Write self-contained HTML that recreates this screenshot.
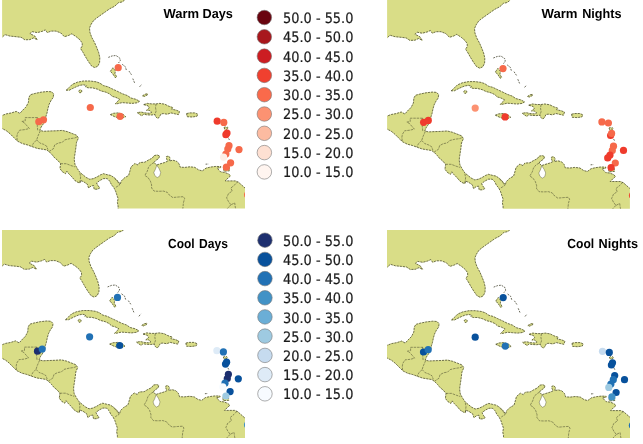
<!DOCTYPE html>
<html lang="en"><head><meta charset="utf-8"><title>Warm and cool days and nights</title>
<style>
html,body{margin:0;padding:0;background:#fff;}
body{width:643px;height:444px;overflow:hidden;}
svg{display:block;}
text{text-rendering:geometricPrecision;}
.lg{font-family:"DejaVu Sans Condensed","DejaVu Sans","Liberation Sans",sans-serif;font-size:14.3px;fill:#1a1a1a;stroke:#1a1a1a;stroke-width:0.2px;}
.tt{font-family:"Liberation Sans","DejaVu Sans",sans-serif;font-size:13.2px;font-weight:bold;fill:#000;}
</style></head><body>
<svg width="643" height="444" viewBox="0 0 643 444">
<rect width="643" height="444" fill="#fff"/>
<svg class="panel" x="2.1" y="0" width="242.9" height="208.6" viewBox="2.1 0 242.9 208.6" overflow="hidden">
<g transform="translate(0,0)"><path d="M-3.0,-3.0L126.5,-3.0L124.7,0.0L122.2,1.9L118.5,2.7L114.7,6.2L109.8,8.7L105.4,11.8L101.0,14.9L96.7,18.0L93.6,20.5L91.1,24.3L89.5,28.0L89.9,32.3L91.7,37.3L94.5,42.4L96.7,47.5L98.6,52.4L99.8,57.4L99.6,62.4L97.9,66.1L94.8,67.6L91.7,66.1L88.6,61.8L85.5,56.8L83.0,52.3L81.5,50.0L80.6,48.5L82.3,46.0L82.2,43.0L79.9,39.8L76.2,36.7L71.8,33.8L68.7,35.4L64.4,36.7L60.9,33.0L56.0,31.1L51.0,31.1L47.3,32.6L45.4,29.9L42.3,31.3L37.3,32.6L32.3,31.7L29.9,33.6L34.8,36.1L37.3,39.8L33.6,37.9L29.9,39.6L24.9,39.8L21.1,37.3L16.2,36.7L10.0,36.1L5.0,34.6L2.1,37.3L-3.0,37.3Z M-3.0,115.5L2.1,115.5L6.2,113.9L11.2,113.0L16.2,111.4L19.9,113.4L22.4,110.5L26.1,106.8L28.4,102.4L28.9,97.4L30.5,94.7L34.8,93.5L41.0,92.2L47.3,91.5L51.6,91.8L53.7,94.0L53.2,97.4L51.0,100.5L49.1,104.3L47.9,108.6L47.0,113.0L46.0,116.1L45.4,119.8L43.5,123.6L41.0,127.3L39.8,130.4L43.5,131.3L49.8,131.0L56.0,130.8L62.2,130.4L67.2,131.6L72.1,133.5L76.5,135.2L78.4,138.0L76.5,142.4L75.9,147.4L75.2,152.3L74.4,157.3L74.3,160.0L74.9,164.3L77.4,168.7L79.9,172.4L83.0,174.9L86.1,177.4L89.8,179.3L93.5,178.6L97.3,176.8L100.4,174.9L103.5,173.7L107.2,174.7L110.9,175.5L114.7,178.0L117.8,181.1L120.3,184.2L121.2,181.1L124.3,178.0L128.6,175.5L129.9,171.2L131.1,166.8L134.9,163.5L138.0,165.0L139.8,162.5L144.8,162.2L148.5,160.0L152.3,158.1L154.1,155.6L157.2,155.0L159.7,156.0L158.5,158.7L155.4,160.6L154.1,162.5L156.6,165.0L159.7,164.0L164.7,162.5L167.6,161.2L166.6,158.7L166.4,156.6L168.6,156.0L170.2,158.2L169.2,161.0L172.8,160.2L176.5,161.2L179.0,163.7L180.2,167.2L184.9,167.4L189.9,166.8L194.9,167.4L198.6,169.9L202.3,170.9L206.1,168.1L211.0,167.0L216.0,166.4L220.8,166.6L220.6,167.7L217.2,168.1L218.9,170.1L220.8,172.0L224.6,172.4L228.4,173.9L230.6,175.8L228.4,177.7L225.2,180.9L230.3,180.9L235.3,180.9L238.4,182.2L241.5,184.9L245.0,188.0L250.0,192.0L250.0,215.0L118.1,215.0L118.1,208.5L118.1,206.0L117.4,202.3L118.1,198.5L116.8,194.8L115.6,191.1L113.7,187.3L111.6,184.9L109.7,181.1L107.2,178.6L103.5,178.6L99.8,180.5L96.6,183.0L97.9,185.5L99.8,188.0L97.3,189.2L94.2,189.2L93.5,185.5L91.0,186.1L88.6,188.0L87.3,184.2L83.6,181.7L80.5,180.5L79.9,183.0L78.0,182.4L74.9,180.5L71.8,176.8L68.7,173.7L66.8,171.2L65.5,173.7L62.4,171.8L60.0,168.7L60.6,163.7L57.8,160.4L54.7,157.9L52.2,154.8L49.1,151.7L46.6,149.9L42.3,149.2L37.3,148.4L32.3,146.7L27.4,144.9L22.4,143.6L17.4,141.1L13.7,137.4L10.0,133.7L6.2,130.6L2.1,128.5L-3.0,128.5Z M66.2,90.2L69.3,87.4L72.4,84.3L77.4,82.2L83.6,81.0L89.9,81.0L96.1,81.8L99.8,83.1L103.5,85.6L107.9,86.8L112.2,88.9L117.2,91.2L122.2,93.7L127.2,95.5L130.9,98.0L135.9,99.3L139.6,101.3L137.1,102.8L132.1,103.4L127.2,103.0L122.2,102.6L117.8,103.6L115.3,103.9L117.2,101.7L119.7,99.3L116.0,97.4L112.2,96.3L109.8,94.0L106.0,92.2L101.0,90.9L97.3,89.1L92.3,87.8L88.0,87.8L85.5,86.8L86.5,85.6L83.6,84.8L79.9,85.3L76.2,86.8L72.4,88.6L69.3,90.2Z M78.6,91.0L80.2,89.8L81.8,90.6L81.6,92.4L79.8,92.8Z M110.4,114.6L113.5,113.3L118.5,112.9L123.4,114.6L125.7,116.7L122.8,117.9L118.5,117.9L114.7,116.7Z M143.7,104.6L147.4,103.4L151.7,103.9L156.1,103.9L159.8,103.4L164.8,104.2L168.5,106.1L172.9,107.6L171.6,109.2L176.0,110.1L179.5,111.5L178.5,114.6L174.8,113.8L171.0,112.9L167.3,114.2L163.6,113.6L161.1,113.8L159.2,117.3L157.6,118.5L155.8,116.7L154.9,114.6L151.1,115.0L146.8,114.8L143.7,114.2L141.8,115.8L139.3,114.2L137.2,112.6L141.2,112.1L144.9,112.9L149.3,113.3L151.7,112.3L149.3,110.4L146.5,110.3L149.3,108.0L148.0,105.8Z M186.6,113.6L189.7,112.9L194.7,112.9L197.8,114.2L196.9,116.3L192.2,117.0L187.2,116.7Z M110.4,71.3L112.9,67.8L115.4,70.8L114.9,73.6L116.7,76.9L115.2,77.6L113.0,74.2Z M142.4,95.9L144.9,94.3L147.6,93.7L147.1,95.2L144.3,96.4Z M224.0,127.6L225.2,126.8L226.2,127.8L227.3,127.0L228.2,128.2L226.6,129.4L224.8,129.2Z M223.5,167.5L229.0,166.8L229.5,170.8L224.0,171.2Z" fill="#d9dd87" stroke="#d9dd87" stroke-width="0.5" stroke-linejoin="round"/><path d="M-3.0,-3.0L126.5,-3.0L124.7,0.0L122.2,1.9L118.5,2.7L114.7,6.2L109.8,8.7L105.4,11.8L101.0,14.9L96.7,18.0L93.6,20.5L91.1,24.3L89.5,28.0L89.9,32.3L91.7,37.3L94.5,42.4L96.7,47.5L98.6,52.4L99.8,57.4L99.6,62.4L97.9,66.1L94.8,67.6L91.7,66.1L88.6,61.8L85.5,56.8L83.0,52.3L81.5,50.0L80.6,48.5L82.3,46.0L82.2,43.0L79.9,39.8L76.2,36.7L71.8,33.8L68.7,35.4L64.4,36.7L60.9,33.0L56.0,31.1L51.0,31.1L47.3,32.6L45.4,29.9L42.3,31.3L37.3,32.6L32.3,31.7L29.9,33.6L34.8,36.1L37.3,39.8L33.6,37.9L29.9,39.6L24.9,39.8L21.1,37.3L16.2,36.7L10.0,36.1L5.0,34.6L2.1,37.3L-3.0,37.3Z M-3.0,115.5L2.1,115.5L6.2,113.9L11.2,113.0L16.2,111.4L19.9,113.4L22.4,110.5L26.1,106.8L28.4,102.4L28.9,97.4L30.5,94.7L34.8,93.5L41.0,92.2L47.3,91.5L51.6,91.8L53.7,94.0L53.2,97.4L51.0,100.5L49.1,104.3L47.9,108.6L47.0,113.0L46.0,116.1L45.4,119.8L43.5,123.6L41.0,127.3L39.8,130.4L43.5,131.3L49.8,131.0L56.0,130.8L62.2,130.4L67.2,131.6L72.1,133.5L76.5,135.2L78.4,138.0L76.5,142.4L75.9,147.4L75.2,152.3L74.4,157.3L74.3,160.0L74.9,164.3L77.4,168.7L79.9,172.4L83.0,174.9L86.1,177.4L89.8,179.3L93.5,178.6L97.3,176.8L100.4,174.9L103.5,173.7L107.2,174.7L110.9,175.5L114.7,178.0L117.8,181.1L120.3,184.2L121.2,181.1L124.3,178.0L128.6,175.5L129.9,171.2L131.1,166.8L134.9,163.5L138.0,165.0L139.8,162.5L144.8,162.2L148.5,160.0L152.3,158.1L154.1,155.6L157.2,155.0L159.7,156.0L158.5,158.7L155.4,160.6L154.1,162.5L156.6,165.0L159.7,164.0L164.7,162.5L167.6,161.2L166.6,158.7L166.4,156.6L168.6,156.0L170.2,158.2L169.2,161.0L172.8,160.2L176.5,161.2L179.0,163.7L180.2,167.2L184.9,167.4L189.9,166.8L194.9,167.4L198.6,169.9L202.3,170.9L206.1,168.1L211.0,167.0L216.0,166.4L220.8,166.6L220.6,167.7L217.2,168.1L218.9,170.1L220.8,172.0L224.6,172.4L228.4,173.9L230.6,175.8L228.4,177.7L225.2,180.9L230.3,180.9L235.3,180.9L238.4,182.2L241.5,184.9L245.0,188.0L250.0,192.0L250.0,215.0L118.1,215.0L118.1,208.5L118.1,206.0L117.4,202.3L118.1,198.5L116.8,194.8L115.6,191.1L113.7,187.3L111.6,184.9L109.7,181.1L107.2,178.6L103.5,178.6L99.8,180.5L96.6,183.0L97.9,185.5L99.8,188.0L97.3,189.2L94.2,189.2L93.5,185.5L91.0,186.1L88.6,188.0L87.3,184.2L83.6,181.7L80.5,180.5L79.9,183.0L78.0,182.4L74.9,180.5L71.8,176.8L68.7,173.7L66.8,171.2L65.5,173.7L62.4,171.8L60.0,168.7L60.6,163.7L57.8,160.4L54.7,157.9L52.2,154.8L49.1,151.7L46.6,149.9L42.3,149.2L37.3,148.4L32.3,146.7L27.4,144.9L22.4,143.6L17.4,141.1L13.7,137.4L10.0,133.7L6.2,130.6L2.1,128.5L-3.0,128.5Z M66.2,90.2L69.3,87.4L72.4,84.3L77.4,82.2L83.6,81.0L89.9,81.0L96.1,81.8L99.8,83.1L103.5,85.6L107.9,86.8L112.2,88.9L117.2,91.2L122.2,93.7L127.2,95.5L130.9,98.0L135.9,99.3L139.6,101.3L137.1,102.8L132.1,103.4L127.2,103.0L122.2,102.6L117.8,103.6L115.3,103.9L117.2,101.7L119.7,99.3L116.0,97.4L112.2,96.3L109.8,94.0L106.0,92.2L101.0,90.9L97.3,89.1L92.3,87.8L88.0,87.8L85.5,86.8L86.5,85.6L83.6,84.8L79.9,85.3L76.2,86.8L72.4,88.6L69.3,90.2Z M78.6,91.0L80.2,89.8L81.8,90.6L81.6,92.4L79.8,92.8Z M110.4,114.6L113.5,113.3L118.5,112.9L123.4,114.6L125.7,116.7L122.8,117.9L118.5,117.9L114.7,116.7Z M143.7,104.6L147.4,103.4L151.7,103.9L156.1,103.9L159.8,103.4L164.8,104.2L168.5,106.1L172.9,107.6L171.6,109.2L176.0,110.1L179.5,111.5L178.5,114.6L174.8,113.8L171.0,112.9L167.3,114.2L163.6,113.6L161.1,113.8L159.2,117.3L157.6,118.5L155.8,116.7L154.9,114.6L151.1,115.0L146.8,114.8L143.7,114.2L141.8,115.8L139.3,114.2L137.2,112.6L141.2,112.1L144.9,112.9L149.3,113.3L151.7,112.3L149.3,110.4L146.5,110.3L149.3,108.0L148.0,105.8Z M186.6,113.6L189.7,112.9L194.7,112.9L197.8,114.2L196.9,116.3L192.2,117.0L187.2,116.7Z M110.4,71.3L112.9,67.8L115.4,70.8L114.9,73.6L116.7,76.9L115.2,77.6L113.0,74.2Z M142.4,95.9L144.9,94.3L147.6,93.7L147.1,95.2L144.3,96.4Z M224.0,127.6L225.2,126.8L226.2,127.8L227.3,127.0L228.2,128.2L226.6,129.4L224.8,129.2Z M223.5,167.5L229.0,166.8L229.5,170.8L224.0,171.2Z" fill="none" stroke="#34341f" stroke-width="0.7" stroke-opacity="0.95" stroke-dasharray="2.1 1" stroke-linejoin="round"/><path d="M156.6,165.0L157.4,166.2L159.1,168.7L160.7,172.4L159.7,176.1L157.2,177.6L154.8,175.5L153.8,172.4L155.4,169.3L156.4,166.5Z" fill="#fff" stroke="#34341f" stroke-width="0.5" stroke-opacity="0.7"/><path d="M108.3,57.4L112.2,55.9L116.0,55.5L119.7,58.0L120.3,60.5L118.5,63.0 M122.2,64.3L125.3,66.7L126.5,70.5 M129.0,71.1L131.5,74.8 M132.8,78.6L134.6,82.9 M139.6,86.8L141.6,84.4 M228.6,138.4L229.6,140.2 M205.6,164.2L208.6,164.0" fill="none" stroke="#3a3a26" stroke-width="0.8" stroke-opacity="0.95" stroke-dasharray="1.8 1"/><path d="M37.6,117.6L25.2,117.6L25.2,120.9L21.9,121.5L24.3,122.8L26.8,125.6L29.3,128.5L24.9,129.6L19.6,130.2L17.4,133.7L16.9,136.5L17.2,140.8 M37.3,117.6L37.3,126.2L37.8,131.2 M40.3,130.8L37.9,136.2L36.7,139.9L33.6,143.0L31.7,146.4 M36.7,139.9L39.8,143.0L43.5,144.3L46.6,146.1L47.9,149.6 M49.1,151.5L53.5,148.6L54.7,144.9L58.5,143.0L62.2,142.4L64.7,139.9L69.7,138.7L74.6,138.0L77.7,136.8 M60.6,163.7L66.2,163.7L71.1,165.6L74.9,166.8 M79.9,173.2L80.6,177.0L79.9,183.0 M114.7,178.6L117.6,181.6L119.7,184.9L115.9,187.3 M154.1,162.5L151.0,164.3L148.5,167.4L147.3,171.2L144.8,175.5L147.9,177.4L150.4,181.1L151.6,184.9L151.6,188.0L154.1,191.1L158.5,191.3L163.5,191.1L167.2,192.3L169.7,195.4L172.8,197.5L178.4,197.0L183.4,196.7L184.6,198.5L183.4,202.9L182.7,210.0 M237.8,181.7L234.7,184.9L230.9,188.0L232.2,191.1L228.5,193.6L226.6,197.9L228.5,201.6L230.9,204.8L234.7,202.9L235.3,207.2L235.9,210.0 M230.9,204.8L226.0,210.0 M156.1,103.9L155.5,107.4L156.1,111.1L154.9,114.6" fill="none" stroke="#34341f" stroke-width="0.6" stroke-opacity="0.8" stroke-dasharray="2.5 0.9" stroke-linejoin="round"/></g>
<g><circle cx="118.2" cy="67.7" r="3.6" fill="#f6694a"/><circle cx="90.3" cy="107.5" r="3.6" fill="#f6694a"/><circle cx="120.1" cy="116.3" r="3.6" fill="#f6694a"/><circle cx="38.8" cy="121.7" r="3.6" fill="#f6694a"/><circle cx="43.5" cy="119.8" r="3.6" fill="#f6694a"/><circle cx="217.2" cy="121.2" r="3.6" fill="#ef3b2c"/><circle cx="223.8" cy="122.4" r="3.6" fill="#f6694a"/><circle cx="227" cy="133.1" r="3.6" fill="#ef3b2c"/><circle cx="225.9" cy="134.7" r="3.6" fill="#ef3b2c"/><circle cx="229" cy="145.7" r="3.6" fill="#f6694a"/><circle cx="227.8" cy="149" r="3.6" fill="#f6694a"/><circle cx="225.9" cy="154.1" r="3.6" fill="#f6694a"/><circle cx="239" cy="149.6" r="3.6" fill="#f6694a"/><circle cx="223.6" cy="157.2" r="3.6" fill="#fdeee7"/><circle cx="230.6" cy="162.8" r="3.6" fill="#f6694a"/><circle cx="226.4" cy="167.2" r="3.6" fill="#f6694a"/><circle cx="247.6" cy="194.8" r="3.6" fill="#f6694a"/></g>
</svg>
<svg class="panel" x="387.1" y="0" width="242.8" height="208.7" viewBox="387.1 0 242.8 208.7" overflow="hidden">
<g transform="translate(385,0.6)"><path d="M-3.0,-3.0L126.5,-3.0L124.7,0.0L122.2,1.9L118.5,2.7L114.7,6.2L109.8,8.7L105.4,11.8L101.0,14.9L96.7,18.0L93.6,20.5L91.1,24.3L89.5,28.0L89.9,32.3L91.7,37.3L94.5,42.4L96.7,47.5L98.6,52.4L99.8,57.4L99.6,62.4L97.9,66.1L94.8,67.6L91.7,66.1L88.6,61.8L85.5,56.8L83.0,52.3L81.5,50.0L80.6,48.5L82.3,46.0L82.2,43.0L79.9,39.8L76.2,36.7L71.8,33.8L68.7,35.4L64.4,36.7L60.9,33.0L56.0,31.1L51.0,31.1L47.3,32.6L45.4,29.9L42.3,31.3L37.3,32.6L32.3,31.7L29.9,33.6L34.8,36.1L37.3,39.8L33.6,37.9L29.9,39.6L24.9,39.8L21.1,37.3L16.2,36.7L10.0,36.1L5.0,34.6L2.1,37.3L-3.0,37.3Z M-3.0,115.5L2.1,115.5L6.2,113.9L11.2,113.0L16.2,111.4L19.9,113.4L22.4,110.5L26.1,106.8L28.4,102.4L28.9,97.4L30.5,94.7L34.8,93.5L41.0,92.2L47.3,91.5L51.6,91.8L53.7,94.0L53.2,97.4L51.0,100.5L49.1,104.3L47.9,108.6L47.0,113.0L46.0,116.1L45.4,119.8L43.5,123.6L41.0,127.3L39.8,130.4L43.5,131.3L49.8,131.0L56.0,130.8L62.2,130.4L67.2,131.6L72.1,133.5L76.5,135.2L78.4,138.0L76.5,142.4L75.9,147.4L75.2,152.3L74.4,157.3L74.3,160.0L74.9,164.3L77.4,168.7L79.9,172.4L83.0,174.9L86.1,177.4L89.8,179.3L93.5,178.6L97.3,176.8L100.4,174.9L103.5,173.7L107.2,174.7L110.9,175.5L114.7,178.0L117.8,181.1L120.3,184.2L121.2,181.1L124.3,178.0L128.6,175.5L129.9,171.2L131.1,166.8L134.9,163.5L138.0,165.0L139.8,162.5L144.8,162.2L148.5,160.0L152.3,158.1L154.1,155.6L157.2,155.0L159.7,156.0L158.5,158.7L155.4,160.6L154.1,162.5L156.6,165.0L159.7,164.0L164.7,162.5L167.6,161.2L166.6,158.7L166.4,156.6L168.6,156.0L170.2,158.2L169.2,161.0L172.8,160.2L176.5,161.2L179.0,163.7L180.2,167.2L184.9,167.4L189.9,166.8L194.9,167.4L198.6,169.9L202.3,170.9L206.1,168.1L211.0,167.0L216.0,166.4L220.8,166.6L220.6,167.7L217.2,168.1L218.9,170.1L220.8,172.0L224.6,172.4L228.4,173.9L230.6,175.8L228.4,177.7L225.2,180.9L230.3,180.9L235.3,180.9L238.4,182.2L241.5,184.9L245.0,188.0L250.0,192.0L250.0,215.0L118.1,215.0L118.1,208.5L118.1,206.0L117.4,202.3L118.1,198.5L116.8,194.8L115.6,191.1L113.7,187.3L111.6,184.9L109.7,181.1L107.2,178.6L103.5,178.6L99.8,180.5L96.6,183.0L97.9,185.5L99.8,188.0L97.3,189.2L94.2,189.2L93.5,185.5L91.0,186.1L88.6,188.0L87.3,184.2L83.6,181.7L80.5,180.5L79.9,183.0L78.0,182.4L74.9,180.5L71.8,176.8L68.7,173.7L66.8,171.2L65.5,173.7L62.4,171.8L60.0,168.7L60.6,163.7L57.8,160.4L54.7,157.9L52.2,154.8L49.1,151.7L46.6,149.9L42.3,149.2L37.3,148.4L32.3,146.7L27.4,144.9L22.4,143.6L17.4,141.1L13.7,137.4L10.0,133.7L6.2,130.6L2.1,128.5L-3.0,128.5Z M66.2,90.2L69.3,87.4L72.4,84.3L77.4,82.2L83.6,81.0L89.9,81.0L96.1,81.8L99.8,83.1L103.5,85.6L107.9,86.8L112.2,88.9L117.2,91.2L122.2,93.7L127.2,95.5L130.9,98.0L135.9,99.3L139.6,101.3L137.1,102.8L132.1,103.4L127.2,103.0L122.2,102.6L117.8,103.6L115.3,103.9L117.2,101.7L119.7,99.3L116.0,97.4L112.2,96.3L109.8,94.0L106.0,92.2L101.0,90.9L97.3,89.1L92.3,87.8L88.0,87.8L85.5,86.8L86.5,85.6L83.6,84.8L79.9,85.3L76.2,86.8L72.4,88.6L69.3,90.2Z M78.6,91.0L80.2,89.8L81.8,90.6L81.6,92.4L79.8,92.8Z M110.4,114.6L113.5,113.3L118.5,112.9L123.4,114.6L125.7,116.7L122.8,117.9L118.5,117.9L114.7,116.7Z M143.7,104.6L147.4,103.4L151.7,103.9L156.1,103.9L159.8,103.4L164.8,104.2L168.5,106.1L172.9,107.6L171.6,109.2L176.0,110.1L179.5,111.5L178.5,114.6L174.8,113.8L171.0,112.9L167.3,114.2L163.6,113.6L161.1,113.8L159.2,117.3L157.6,118.5L155.8,116.7L154.9,114.6L151.1,115.0L146.8,114.8L143.7,114.2L141.8,115.8L139.3,114.2L137.2,112.6L141.2,112.1L144.9,112.9L149.3,113.3L151.7,112.3L149.3,110.4L146.5,110.3L149.3,108.0L148.0,105.8Z M186.6,113.6L189.7,112.9L194.7,112.9L197.8,114.2L196.9,116.3L192.2,117.0L187.2,116.7Z M110.4,71.3L112.9,67.8L115.4,70.8L114.9,73.6L116.7,76.9L115.2,77.6L113.0,74.2Z M142.4,95.9L144.9,94.3L147.6,93.7L147.1,95.2L144.3,96.4Z M224.0,127.6L225.2,126.8L226.2,127.8L227.3,127.0L228.2,128.2L226.6,129.4L224.8,129.2Z M223.5,167.5L229.0,166.8L229.5,170.8L224.0,171.2Z" fill="#d9dd87" stroke="#d9dd87" stroke-width="0.5" stroke-linejoin="round"/><path d="M-3.0,-3.0L126.5,-3.0L124.7,0.0L122.2,1.9L118.5,2.7L114.7,6.2L109.8,8.7L105.4,11.8L101.0,14.9L96.7,18.0L93.6,20.5L91.1,24.3L89.5,28.0L89.9,32.3L91.7,37.3L94.5,42.4L96.7,47.5L98.6,52.4L99.8,57.4L99.6,62.4L97.9,66.1L94.8,67.6L91.7,66.1L88.6,61.8L85.5,56.8L83.0,52.3L81.5,50.0L80.6,48.5L82.3,46.0L82.2,43.0L79.9,39.8L76.2,36.7L71.8,33.8L68.7,35.4L64.4,36.7L60.9,33.0L56.0,31.1L51.0,31.1L47.3,32.6L45.4,29.9L42.3,31.3L37.3,32.6L32.3,31.7L29.9,33.6L34.8,36.1L37.3,39.8L33.6,37.9L29.9,39.6L24.9,39.8L21.1,37.3L16.2,36.7L10.0,36.1L5.0,34.6L2.1,37.3L-3.0,37.3Z M-3.0,115.5L2.1,115.5L6.2,113.9L11.2,113.0L16.2,111.4L19.9,113.4L22.4,110.5L26.1,106.8L28.4,102.4L28.9,97.4L30.5,94.7L34.8,93.5L41.0,92.2L47.3,91.5L51.6,91.8L53.7,94.0L53.2,97.4L51.0,100.5L49.1,104.3L47.9,108.6L47.0,113.0L46.0,116.1L45.4,119.8L43.5,123.6L41.0,127.3L39.8,130.4L43.5,131.3L49.8,131.0L56.0,130.8L62.2,130.4L67.2,131.6L72.1,133.5L76.5,135.2L78.4,138.0L76.5,142.4L75.9,147.4L75.2,152.3L74.4,157.3L74.3,160.0L74.9,164.3L77.4,168.7L79.9,172.4L83.0,174.9L86.1,177.4L89.8,179.3L93.5,178.6L97.3,176.8L100.4,174.9L103.5,173.7L107.2,174.7L110.9,175.5L114.7,178.0L117.8,181.1L120.3,184.2L121.2,181.1L124.3,178.0L128.6,175.5L129.9,171.2L131.1,166.8L134.9,163.5L138.0,165.0L139.8,162.5L144.8,162.2L148.5,160.0L152.3,158.1L154.1,155.6L157.2,155.0L159.7,156.0L158.5,158.7L155.4,160.6L154.1,162.5L156.6,165.0L159.7,164.0L164.7,162.5L167.6,161.2L166.6,158.7L166.4,156.6L168.6,156.0L170.2,158.2L169.2,161.0L172.8,160.2L176.5,161.2L179.0,163.7L180.2,167.2L184.9,167.4L189.9,166.8L194.9,167.4L198.6,169.9L202.3,170.9L206.1,168.1L211.0,167.0L216.0,166.4L220.8,166.6L220.6,167.7L217.2,168.1L218.9,170.1L220.8,172.0L224.6,172.4L228.4,173.9L230.6,175.8L228.4,177.7L225.2,180.9L230.3,180.9L235.3,180.9L238.4,182.2L241.5,184.9L245.0,188.0L250.0,192.0L250.0,215.0L118.1,215.0L118.1,208.5L118.1,206.0L117.4,202.3L118.1,198.5L116.8,194.8L115.6,191.1L113.7,187.3L111.6,184.9L109.7,181.1L107.2,178.6L103.5,178.6L99.8,180.5L96.6,183.0L97.9,185.5L99.8,188.0L97.3,189.2L94.2,189.2L93.5,185.5L91.0,186.1L88.6,188.0L87.3,184.2L83.6,181.7L80.5,180.5L79.9,183.0L78.0,182.4L74.9,180.5L71.8,176.8L68.7,173.7L66.8,171.2L65.5,173.7L62.4,171.8L60.0,168.7L60.6,163.7L57.8,160.4L54.7,157.9L52.2,154.8L49.1,151.7L46.6,149.9L42.3,149.2L37.3,148.4L32.3,146.7L27.4,144.9L22.4,143.6L17.4,141.1L13.7,137.4L10.0,133.7L6.2,130.6L2.1,128.5L-3.0,128.5Z M66.2,90.2L69.3,87.4L72.4,84.3L77.4,82.2L83.6,81.0L89.9,81.0L96.1,81.8L99.8,83.1L103.5,85.6L107.9,86.8L112.2,88.9L117.2,91.2L122.2,93.7L127.2,95.5L130.9,98.0L135.9,99.3L139.6,101.3L137.1,102.8L132.1,103.4L127.2,103.0L122.2,102.6L117.8,103.6L115.3,103.9L117.2,101.7L119.7,99.3L116.0,97.4L112.2,96.3L109.8,94.0L106.0,92.2L101.0,90.9L97.3,89.1L92.3,87.8L88.0,87.8L85.5,86.8L86.5,85.6L83.6,84.8L79.9,85.3L76.2,86.8L72.4,88.6L69.3,90.2Z M78.6,91.0L80.2,89.8L81.8,90.6L81.6,92.4L79.8,92.8Z M110.4,114.6L113.5,113.3L118.5,112.9L123.4,114.6L125.7,116.7L122.8,117.9L118.5,117.9L114.7,116.7Z M143.7,104.6L147.4,103.4L151.7,103.9L156.1,103.9L159.8,103.4L164.8,104.2L168.5,106.1L172.9,107.6L171.6,109.2L176.0,110.1L179.5,111.5L178.5,114.6L174.8,113.8L171.0,112.9L167.3,114.2L163.6,113.6L161.1,113.8L159.2,117.3L157.6,118.5L155.8,116.7L154.9,114.6L151.1,115.0L146.8,114.8L143.7,114.2L141.8,115.8L139.3,114.2L137.2,112.6L141.2,112.1L144.9,112.9L149.3,113.3L151.7,112.3L149.3,110.4L146.5,110.3L149.3,108.0L148.0,105.8Z M186.6,113.6L189.7,112.9L194.7,112.9L197.8,114.2L196.9,116.3L192.2,117.0L187.2,116.7Z M110.4,71.3L112.9,67.8L115.4,70.8L114.9,73.6L116.7,76.9L115.2,77.6L113.0,74.2Z M142.4,95.9L144.9,94.3L147.6,93.7L147.1,95.2L144.3,96.4Z M224.0,127.6L225.2,126.8L226.2,127.8L227.3,127.0L228.2,128.2L226.6,129.4L224.8,129.2Z M223.5,167.5L229.0,166.8L229.5,170.8L224.0,171.2Z" fill="none" stroke="#34341f" stroke-width="0.7" stroke-opacity="0.95" stroke-dasharray="2.1 1" stroke-linejoin="round"/><path d="M156.6,165.0L157.4,166.2L159.1,168.7L160.7,172.4L159.7,176.1L157.2,177.6L154.8,175.5L153.8,172.4L155.4,169.3L156.4,166.5Z" fill="#fff" stroke="#34341f" stroke-width="0.5" stroke-opacity="0.7"/><path d="M108.3,57.4L112.2,55.9L116.0,55.5L119.7,58.0L120.3,60.5L118.5,63.0 M122.2,64.3L125.3,66.7L126.5,70.5 M129.0,71.1L131.5,74.8 M132.8,78.6L134.6,82.9 M139.6,86.8L141.6,84.4 M228.6,138.4L229.6,140.2 M205.6,164.2L208.6,164.0" fill="none" stroke="#3a3a26" stroke-width="0.8" stroke-opacity="0.95" stroke-dasharray="1.8 1"/><path d="M37.6,117.6L25.2,117.6L25.2,120.9L21.9,121.5L24.3,122.8L26.8,125.6L29.3,128.5L24.9,129.6L19.6,130.2L17.4,133.7L16.9,136.5L17.2,140.8 M37.3,117.6L37.3,126.2L37.8,131.2 M40.3,130.8L37.9,136.2L36.7,139.9L33.6,143.0L31.7,146.4 M36.7,139.9L39.8,143.0L43.5,144.3L46.6,146.1L47.9,149.6 M49.1,151.5L53.5,148.6L54.7,144.9L58.5,143.0L62.2,142.4L64.7,139.9L69.7,138.7L74.6,138.0L77.7,136.8 M60.6,163.7L66.2,163.7L71.1,165.6L74.9,166.8 M79.9,173.2L80.6,177.0L79.9,183.0 M114.7,178.6L117.6,181.6L119.7,184.9L115.9,187.3 M154.1,162.5L151.0,164.3L148.5,167.4L147.3,171.2L144.8,175.5L147.9,177.4L150.4,181.1L151.6,184.9L151.6,188.0L154.1,191.1L158.5,191.3L163.5,191.1L167.2,192.3L169.7,195.4L172.8,197.5L178.4,197.0L183.4,196.7L184.6,198.5L183.4,202.9L182.7,210.0 M237.8,181.7L234.7,184.9L230.9,188.0L232.2,191.1L228.5,193.6L226.6,197.9L228.5,201.6L230.9,204.8L234.7,202.9L235.3,207.2L235.9,210.0 M230.9,204.8L226.0,210.0 M156.1,103.9L155.5,107.4L156.1,111.1L154.9,114.6" fill="none" stroke="#34341f" stroke-width="0.6" stroke-opacity="0.8" stroke-dasharray="2.5 0.9" stroke-linejoin="round"/></g>
<g><circle cx="503" cy="68.6" r="3.6" fill="#f6694a"/><circle cx="423.6" cy="122.3" r="3.6" fill="#ef3b2c"/><circle cx="428.3" cy="120.4" r="3.6" fill="#ef3b2c"/><circle cx="475.2" cy="108.1" r="3.6" fill="#fc9272"/><circle cx="505.1" cy="116.9" r="3.6" fill="#ef3b2c"/><circle cx="601.9" cy="121.9" r="3.6" fill="#f6694a"/><circle cx="608.4" cy="123" r="3.6" fill="#f6694a"/><circle cx="610.6" cy="135.5" r="3.6" fill="#ef3b2c"/><circle cx="611.6" cy="133.4" r="3.6" fill="#f6694a"/><circle cx="613.5" cy="146.2" r="3.6" fill="#f6694a"/><circle cx="612.3" cy="150.4" r="3.6" fill="#f6694a"/><circle cx="610" cy="155.1" r="3.6" fill="#ef3b2c"/><circle cx="607.7" cy="157.9" r="3.6" fill="#ef3b2c"/><circle cx="623.5" cy="150.4" r="3.6" fill="#ef3b2c"/><circle cx="615.3" cy="163" r="3.6" fill="#f6694a"/><circle cx="611.1" cy="167.5" r="3.6" fill="#ef3b2c"/><circle cx="632.5" cy="195.4" r="3.6" fill="#ef3b2c"/></g>
</svg>
<svg class="panel" x="2.1" y="230.1" width="242.9" height="207.8" viewBox="2.1 230.1 242.9 207.8" overflow="hidden">
<g transform="translate(-0.7,229.5)"><path d="M-3.0,-3.0L126.5,-3.0L124.7,0.0L122.2,1.9L118.5,2.7L114.7,6.2L109.8,8.7L105.4,11.8L101.0,14.9L96.7,18.0L93.6,20.5L91.1,24.3L89.5,28.0L89.9,32.3L91.7,37.3L94.5,42.4L96.7,47.5L98.6,52.4L99.8,57.4L99.6,62.4L97.9,66.1L94.8,67.6L91.7,66.1L88.6,61.8L85.5,56.8L83.0,52.3L81.5,50.0L80.6,48.5L82.3,46.0L82.2,43.0L79.9,39.8L76.2,36.7L71.8,33.8L68.7,35.4L64.4,36.7L60.9,33.0L56.0,31.1L51.0,31.1L47.3,32.6L45.4,29.9L42.3,31.3L37.3,32.6L32.3,31.7L29.9,33.6L34.8,36.1L37.3,39.8L33.6,37.9L29.9,39.6L24.9,39.8L21.1,37.3L16.2,36.7L10.0,36.1L5.0,34.6L2.1,37.3L-3.0,37.3Z M-3.0,115.5L2.1,115.5L6.2,113.9L11.2,113.0L16.2,111.4L19.9,113.4L22.4,110.5L26.1,106.8L28.4,102.4L28.9,97.4L30.5,94.7L34.8,93.5L41.0,92.2L47.3,91.5L51.6,91.8L53.7,94.0L53.2,97.4L51.0,100.5L49.1,104.3L47.9,108.6L47.0,113.0L46.0,116.1L45.4,119.8L43.5,123.6L41.0,127.3L39.8,130.4L43.5,131.3L49.8,131.0L56.0,130.8L62.2,130.4L67.2,131.6L72.1,133.5L76.5,135.2L78.4,138.0L76.5,142.4L75.9,147.4L75.2,152.3L74.4,157.3L74.3,160.0L74.9,164.3L77.4,168.7L79.9,172.4L83.0,174.9L86.1,177.4L89.8,179.3L93.5,178.6L97.3,176.8L100.4,174.9L103.5,173.7L107.2,174.7L110.9,175.5L114.7,178.0L117.8,181.1L120.3,184.2L121.2,181.1L124.3,178.0L128.6,175.5L129.9,171.2L131.1,166.8L134.9,163.5L138.0,165.0L139.8,162.5L144.8,162.2L148.5,160.0L152.3,158.1L154.1,155.6L157.2,155.0L159.7,156.0L158.5,158.7L155.4,160.6L154.1,162.5L156.6,165.0L159.7,164.0L164.7,162.5L167.6,161.2L166.6,158.7L166.4,156.6L168.6,156.0L170.2,158.2L169.2,161.0L172.8,160.2L176.5,161.2L179.0,163.7L180.2,167.2L184.9,167.4L189.9,166.8L194.9,167.4L198.6,169.9L202.3,170.9L206.1,168.1L211.0,167.0L216.0,166.4L220.8,166.6L220.6,167.7L217.2,168.1L218.9,170.1L220.8,172.0L224.6,172.4L228.4,173.9L230.6,175.8L228.4,177.7L225.2,180.9L230.3,180.9L235.3,180.9L238.4,182.2L241.5,184.9L245.0,188.0L250.0,192.0L250.0,215.0L118.1,215.0L118.1,208.5L118.1,206.0L117.4,202.3L118.1,198.5L116.8,194.8L115.6,191.1L113.7,187.3L111.6,184.9L109.7,181.1L107.2,178.6L103.5,178.6L99.8,180.5L96.6,183.0L97.9,185.5L99.8,188.0L97.3,189.2L94.2,189.2L93.5,185.5L91.0,186.1L88.6,188.0L87.3,184.2L83.6,181.7L80.5,180.5L79.9,183.0L78.0,182.4L74.9,180.5L71.8,176.8L68.7,173.7L66.8,171.2L65.5,173.7L62.4,171.8L60.0,168.7L60.6,163.7L57.8,160.4L54.7,157.9L52.2,154.8L49.1,151.7L46.6,149.9L42.3,149.2L37.3,148.4L32.3,146.7L27.4,144.9L22.4,143.6L17.4,141.1L13.7,137.4L10.0,133.7L6.2,130.6L2.1,128.5L-3.0,128.5Z M66.2,90.2L69.3,87.4L72.4,84.3L77.4,82.2L83.6,81.0L89.9,81.0L96.1,81.8L99.8,83.1L103.5,85.6L107.9,86.8L112.2,88.9L117.2,91.2L122.2,93.7L127.2,95.5L130.9,98.0L135.9,99.3L139.6,101.3L137.1,102.8L132.1,103.4L127.2,103.0L122.2,102.6L117.8,103.6L115.3,103.9L117.2,101.7L119.7,99.3L116.0,97.4L112.2,96.3L109.8,94.0L106.0,92.2L101.0,90.9L97.3,89.1L92.3,87.8L88.0,87.8L85.5,86.8L86.5,85.6L83.6,84.8L79.9,85.3L76.2,86.8L72.4,88.6L69.3,90.2Z M78.6,91.0L80.2,89.8L81.8,90.6L81.6,92.4L79.8,92.8Z M110.4,114.6L113.5,113.3L118.5,112.9L123.4,114.6L125.7,116.7L122.8,117.9L118.5,117.9L114.7,116.7Z M143.7,104.6L147.4,103.4L151.7,103.9L156.1,103.9L159.8,103.4L164.8,104.2L168.5,106.1L172.9,107.6L171.6,109.2L176.0,110.1L179.5,111.5L178.5,114.6L174.8,113.8L171.0,112.9L167.3,114.2L163.6,113.6L161.1,113.8L159.2,117.3L157.6,118.5L155.8,116.7L154.9,114.6L151.1,115.0L146.8,114.8L143.7,114.2L141.8,115.8L139.3,114.2L137.2,112.6L141.2,112.1L144.9,112.9L149.3,113.3L151.7,112.3L149.3,110.4L146.5,110.3L149.3,108.0L148.0,105.8Z M186.6,113.6L189.7,112.9L194.7,112.9L197.8,114.2L196.9,116.3L192.2,117.0L187.2,116.7Z M110.4,71.3L112.9,67.8L115.4,70.8L114.9,73.6L116.7,76.9L115.2,77.6L113.0,74.2Z M142.4,95.9L144.9,94.3L147.6,93.7L147.1,95.2L144.3,96.4Z M224.0,127.6L225.2,126.8L226.2,127.8L227.3,127.0L228.2,128.2L226.6,129.4L224.8,129.2Z M223.5,167.5L229.0,166.8L229.5,170.8L224.0,171.2Z" fill="#d9dd87" stroke="#d9dd87" stroke-width="0.5" stroke-linejoin="round"/><path d="M-3.0,-3.0L126.5,-3.0L124.7,0.0L122.2,1.9L118.5,2.7L114.7,6.2L109.8,8.7L105.4,11.8L101.0,14.9L96.7,18.0L93.6,20.5L91.1,24.3L89.5,28.0L89.9,32.3L91.7,37.3L94.5,42.4L96.7,47.5L98.6,52.4L99.8,57.4L99.6,62.4L97.9,66.1L94.8,67.6L91.7,66.1L88.6,61.8L85.5,56.8L83.0,52.3L81.5,50.0L80.6,48.5L82.3,46.0L82.2,43.0L79.9,39.8L76.2,36.7L71.8,33.8L68.7,35.4L64.4,36.7L60.9,33.0L56.0,31.1L51.0,31.1L47.3,32.6L45.4,29.9L42.3,31.3L37.3,32.6L32.3,31.7L29.9,33.6L34.8,36.1L37.3,39.8L33.6,37.9L29.9,39.6L24.9,39.8L21.1,37.3L16.2,36.7L10.0,36.1L5.0,34.6L2.1,37.3L-3.0,37.3Z M-3.0,115.5L2.1,115.5L6.2,113.9L11.2,113.0L16.2,111.4L19.9,113.4L22.4,110.5L26.1,106.8L28.4,102.4L28.9,97.4L30.5,94.7L34.8,93.5L41.0,92.2L47.3,91.5L51.6,91.8L53.7,94.0L53.2,97.4L51.0,100.5L49.1,104.3L47.9,108.6L47.0,113.0L46.0,116.1L45.4,119.8L43.5,123.6L41.0,127.3L39.8,130.4L43.5,131.3L49.8,131.0L56.0,130.8L62.2,130.4L67.2,131.6L72.1,133.5L76.5,135.2L78.4,138.0L76.5,142.4L75.9,147.4L75.2,152.3L74.4,157.3L74.3,160.0L74.9,164.3L77.4,168.7L79.9,172.4L83.0,174.9L86.1,177.4L89.8,179.3L93.5,178.6L97.3,176.8L100.4,174.9L103.5,173.7L107.2,174.7L110.9,175.5L114.7,178.0L117.8,181.1L120.3,184.2L121.2,181.1L124.3,178.0L128.6,175.5L129.9,171.2L131.1,166.8L134.9,163.5L138.0,165.0L139.8,162.5L144.8,162.2L148.5,160.0L152.3,158.1L154.1,155.6L157.2,155.0L159.7,156.0L158.5,158.7L155.4,160.6L154.1,162.5L156.6,165.0L159.7,164.0L164.7,162.5L167.6,161.2L166.6,158.7L166.4,156.6L168.6,156.0L170.2,158.2L169.2,161.0L172.8,160.2L176.5,161.2L179.0,163.7L180.2,167.2L184.9,167.4L189.9,166.8L194.9,167.4L198.6,169.9L202.3,170.9L206.1,168.1L211.0,167.0L216.0,166.4L220.8,166.6L220.6,167.7L217.2,168.1L218.9,170.1L220.8,172.0L224.6,172.4L228.4,173.9L230.6,175.8L228.4,177.7L225.2,180.9L230.3,180.9L235.3,180.9L238.4,182.2L241.5,184.9L245.0,188.0L250.0,192.0L250.0,215.0L118.1,215.0L118.1,208.5L118.1,206.0L117.4,202.3L118.1,198.5L116.8,194.8L115.6,191.1L113.7,187.3L111.6,184.9L109.7,181.1L107.2,178.6L103.5,178.6L99.8,180.5L96.6,183.0L97.9,185.5L99.8,188.0L97.3,189.2L94.2,189.2L93.5,185.5L91.0,186.1L88.6,188.0L87.3,184.2L83.6,181.7L80.5,180.5L79.9,183.0L78.0,182.4L74.9,180.5L71.8,176.8L68.7,173.7L66.8,171.2L65.5,173.7L62.4,171.8L60.0,168.7L60.6,163.7L57.8,160.4L54.7,157.9L52.2,154.8L49.1,151.7L46.6,149.9L42.3,149.2L37.3,148.4L32.3,146.7L27.4,144.9L22.4,143.6L17.4,141.1L13.7,137.4L10.0,133.7L6.2,130.6L2.1,128.5L-3.0,128.5Z M66.2,90.2L69.3,87.4L72.4,84.3L77.4,82.2L83.6,81.0L89.9,81.0L96.1,81.8L99.8,83.1L103.5,85.6L107.9,86.8L112.2,88.9L117.2,91.2L122.2,93.7L127.2,95.5L130.9,98.0L135.9,99.3L139.6,101.3L137.1,102.8L132.1,103.4L127.2,103.0L122.2,102.6L117.8,103.6L115.3,103.9L117.2,101.7L119.7,99.3L116.0,97.4L112.2,96.3L109.8,94.0L106.0,92.2L101.0,90.9L97.3,89.1L92.3,87.8L88.0,87.8L85.5,86.8L86.5,85.6L83.6,84.8L79.9,85.3L76.2,86.8L72.4,88.6L69.3,90.2Z M78.6,91.0L80.2,89.8L81.8,90.6L81.6,92.4L79.8,92.8Z M110.4,114.6L113.5,113.3L118.5,112.9L123.4,114.6L125.7,116.7L122.8,117.9L118.5,117.9L114.7,116.7Z M143.7,104.6L147.4,103.4L151.7,103.9L156.1,103.9L159.8,103.4L164.8,104.2L168.5,106.1L172.9,107.6L171.6,109.2L176.0,110.1L179.5,111.5L178.5,114.6L174.8,113.8L171.0,112.9L167.3,114.2L163.6,113.6L161.1,113.8L159.2,117.3L157.6,118.5L155.8,116.7L154.9,114.6L151.1,115.0L146.8,114.8L143.7,114.2L141.8,115.8L139.3,114.2L137.2,112.6L141.2,112.1L144.9,112.9L149.3,113.3L151.7,112.3L149.3,110.4L146.5,110.3L149.3,108.0L148.0,105.8Z M186.6,113.6L189.7,112.9L194.7,112.9L197.8,114.2L196.9,116.3L192.2,117.0L187.2,116.7Z M110.4,71.3L112.9,67.8L115.4,70.8L114.9,73.6L116.7,76.9L115.2,77.6L113.0,74.2Z M142.4,95.9L144.9,94.3L147.6,93.7L147.1,95.2L144.3,96.4Z M224.0,127.6L225.2,126.8L226.2,127.8L227.3,127.0L228.2,128.2L226.6,129.4L224.8,129.2Z M223.5,167.5L229.0,166.8L229.5,170.8L224.0,171.2Z" fill="none" stroke="#34341f" stroke-width="0.7" stroke-opacity="0.95" stroke-dasharray="2.1 1" stroke-linejoin="round"/><path d="M156.6,165.0L157.4,166.2L159.1,168.7L160.7,172.4L159.7,176.1L157.2,177.6L154.8,175.5L153.8,172.4L155.4,169.3L156.4,166.5Z" fill="#fff" stroke="#34341f" stroke-width="0.5" stroke-opacity="0.7"/><path d="M108.3,57.4L112.2,55.9L116.0,55.5L119.7,58.0L120.3,60.5L118.5,63.0 M122.2,64.3L125.3,66.7L126.5,70.5 M129.0,71.1L131.5,74.8 M132.8,78.6L134.6,82.9 M139.6,86.8L141.6,84.4 M228.6,138.4L229.6,140.2 M205.6,164.2L208.6,164.0" fill="none" stroke="#3a3a26" stroke-width="0.8" stroke-opacity="0.95" stroke-dasharray="1.8 1"/><path d="M37.6,117.6L25.2,117.6L25.2,120.9L21.9,121.5L24.3,122.8L26.8,125.6L29.3,128.5L24.9,129.6L19.6,130.2L17.4,133.7L16.9,136.5L17.2,140.8 M37.3,117.6L37.3,126.2L37.8,131.2 M40.3,130.8L37.9,136.2L36.7,139.9L33.6,143.0L31.7,146.4 M36.7,139.9L39.8,143.0L43.5,144.3L46.6,146.1L47.9,149.6 M49.1,151.5L53.5,148.6L54.7,144.9L58.5,143.0L62.2,142.4L64.7,139.9L69.7,138.7L74.6,138.0L77.7,136.8 M60.6,163.7L66.2,163.7L71.1,165.6L74.9,166.8 M79.9,173.2L80.6,177.0L79.9,183.0 M114.7,178.6L117.6,181.6L119.7,184.9L115.9,187.3 M154.1,162.5L151.0,164.3L148.5,167.4L147.3,171.2L144.8,175.5L147.9,177.4L150.4,181.1L151.6,184.9L151.6,188.0L154.1,191.1L158.5,191.3L163.5,191.1L167.2,192.3L169.7,195.4L172.8,197.5L178.4,197.0L183.4,196.7L184.6,198.5L183.4,202.9L182.7,210.0 M237.8,181.7L234.7,184.9L230.9,188.0L232.2,191.1L228.5,193.6L226.6,197.9L228.5,201.6L230.9,204.8L234.7,202.9L235.3,207.2L235.9,210.0 M230.9,204.8L226.0,210.0 M156.1,103.9L155.5,107.4L156.1,111.1L154.9,114.6" fill="none" stroke="#34341f" stroke-width="0.6" stroke-opacity="0.8" stroke-dasharray="2.5 0.9" stroke-linejoin="round"/></g>
<g><circle cx="117.5" cy="297.4" r="3.6" fill="#2171b5"/><circle cx="37.5" cy="351.2" r="3.6" fill="#1d2f6f"/><circle cx="42.2" cy="349.1" r="3.6" fill="#2171b5"/><circle cx="89.6" cy="336.8" r="3.6" fill="#2171b5"/><circle cx="119.7" cy="345.5" r="3.6" fill="#08519c"/><circle cx="216.9" cy="350.7" r="3.6" fill="#deebf7"/><circle cx="223.4" cy="351.9" r="3.6" fill="#2171b5"/><circle cx="225.5" cy="364.1" r="3.6" fill="#08519c"/><circle cx="226.6" cy="362.2" r="3.6" fill="#08519c"/><circle cx="228.4" cy="374.3" r="3.6" fill="#1d2f6f"/><circle cx="227.3" cy="378.5" r="3.6" fill="#1d2f6f"/><circle cx="225" cy="383.2" r="3.6" fill="#2171b5"/><circle cx="222.8" cy="386.9" r="3.6" fill="#f7fbff"/><circle cx="238.3" cy="378.8" r="3.6" fill="#08519c"/><circle cx="230.1" cy="391.6" r="3.6" fill="#08519c"/><circle cx="225.9" cy="396" r="3.6" fill="#9ecae1"/><circle cx="247.5" cy="424.8" r="3.6" fill="#4292c6"/></g>
</svg>
<svg class="panel" x="387.1" y="230.1" width="242.8" height="207.8" viewBox="387.1 230.1 242.8 207.8" overflow="hidden">
<g transform="translate(385.4,229.7)"><path d="M-3.0,-3.0L126.5,-3.0L124.7,0.0L122.2,1.9L118.5,2.7L114.7,6.2L109.8,8.7L105.4,11.8L101.0,14.9L96.7,18.0L93.6,20.5L91.1,24.3L89.5,28.0L89.9,32.3L91.7,37.3L94.5,42.4L96.7,47.5L98.6,52.4L99.8,57.4L99.6,62.4L97.9,66.1L94.8,67.6L91.7,66.1L88.6,61.8L85.5,56.8L83.0,52.3L81.5,50.0L80.6,48.5L82.3,46.0L82.2,43.0L79.9,39.8L76.2,36.7L71.8,33.8L68.7,35.4L64.4,36.7L60.9,33.0L56.0,31.1L51.0,31.1L47.3,32.6L45.4,29.9L42.3,31.3L37.3,32.6L32.3,31.7L29.9,33.6L34.8,36.1L37.3,39.8L33.6,37.9L29.9,39.6L24.9,39.8L21.1,37.3L16.2,36.7L10.0,36.1L5.0,34.6L2.1,37.3L-3.0,37.3Z M-3.0,115.5L2.1,115.5L6.2,113.9L11.2,113.0L16.2,111.4L19.9,113.4L22.4,110.5L26.1,106.8L28.4,102.4L28.9,97.4L30.5,94.7L34.8,93.5L41.0,92.2L47.3,91.5L51.6,91.8L53.7,94.0L53.2,97.4L51.0,100.5L49.1,104.3L47.9,108.6L47.0,113.0L46.0,116.1L45.4,119.8L43.5,123.6L41.0,127.3L39.8,130.4L43.5,131.3L49.8,131.0L56.0,130.8L62.2,130.4L67.2,131.6L72.1,133.5L76.5,135.2L78.4,138.0L76.5,142.4L75.9,147.4L75.2,152.3L74.4,157.3L74.3,160.0L74.9,164.3L77.4,168.7L79.9,172.4L83.0,174.9L86.1,177.4L89.8,179.3L93.5,178.6L97.3,176.8L100.4,174.9L103.5,173.7L107.2,174.7L110.9,175.5L114.7,178.0L117.8,181.1L120.3,184.2L121.2,181.1L124.3,178.0L128.6,175.5L129.9,171.2L131.1,166.8L134.9,163.5L138.0,165.0L139.8,162.5L144.8,162.2L148.5,160.0L152.3,158.1L154.1,155.6L157.2,155.0L159.7,156.0L158.5,158.7L155.4,160.6L154.1,162.5L156.6,165.0L159.7,164.0L164.7,162.5L167.6,161.2L166.6,158.7L166.4,156.6L168.6,156.0L170.2,158.2L169.2,161.0L172.8,160.2L176.5,161.2L179.0,163.7L180.2,167.2L184.9,167.4L189.9,166.8L194.9,167.4L198.6,169.9L202.3,170.9L206.1,168.1L211.0,167.0L216.0,166.4L220.8,166.6L220.6,167.7L217.2,168.1L218.9,170.1L220.8,172.0L224.6,172.4L228.4,173.9L230.6,175.8L228.4,177.7L225.2,180.9L230.3,180.9L235.3,180.9L238.4,182.2L241.5,184.9L245.0,188.0L250.0,192.0L250.0,215.0L118.1,215.0L118.1,208.5L118.1,206.0L117.4,202.3L118.1,198.5L116.8,194.8L115.6,191.1L113.7,187.3L111.6,184.9L109.7,181.1L107.2,178.6L103.5,178.6L99.8,180.5L96.6,183.0L97.9,185.5L99.8,188.0L97.3,189.2L94.2,189.2L93.5,185.5L91.0,186.1L88.6,188.0L87.3,184.2L83.6,181.7L80.5,180.5L79.9,183.0L78.0,182.4L74.9,180.5L71.8,176.8L68.7,173.7L66.8,171.2L65.5,173.7L62.4,171.8L60.0,168.7L60.6,163.7L57.8,160.4L54.7,157.9L52.2,154.8L49.1,151.7L46.6,149.9L42.3,149.2L37.3,148.4L32.3,146.7L27.4,144.9L22.4,143.6L17.4,141.1L13.7,137.4L10.0,133.7L6.2,130.6L2.1,128.5L-3.0,128.5Z M66.2,90.2L69.3,87.4L72.4,84.3L77.4,82.2L83.6,81.0L89.9,81.0L96.1,81.8L99.8,83.1L103.5,85.6L107.9,86.8L112.2,88.9L117.2,91.2L122.2,93.7L127.2,95.5L130.9,98.0L135.9,99.3L139.6,101.3L137.1,102.8L132.1,103.4L127.2,103.0L122.2,102.6L117.8,103.6L115.3,103.9L117.2,101.7L119.7,99.3L116.0,97.4L112.2,96.3L109.8,94.0L106.0,92.2L101.0,90.9L97.3,89.1L92.3,87.8L88.0,87.8L85.5,86.8L86.5,85.6L83.6,84.8L79.9,85.3L76.2,86.8L72.4,88.6L69.3,90.2Z M78.6,91.0L80.2,89.8L81.8,90.6L81.6,92.4L79.8,92.8Z M110.4,114.6L113.5,113.3L118.5,112.9L123.4,114.6L125.7,116.7L122.8,117.9L118.5,117.9L114.7,116.7Z M143.7,104.6L147.4,103.4L151.7,103.9L156.1,103.9L159.8,103.4L164.8,104.2L168.5,106.1L172.9,107.6L171.6,109.2L176.0,110.1L179.5,111.5L178.5,114.6L174.8,113.8L171.0,112.9L167.3,114.2L163.6,113.6L161.1,113.8L159.2,117.3L157.6,118.5L155.8,116.7L154.9,114.6L151.1,115.0L146.8,114.8L143.7,114.2L141.8,115.8L139.3,114.2L137.2,112.6L141.2,112.1L144.9,112.9L149.3,113.3L151.7,112.3L149.3,110.4L146.5,110.3L149.3,108.0L148.0,105.8Z M186.6,113.6L189.7,112.9L194.7,112.9L197.8,114.2L196.9,116.3L192.2,117.0L187.2,116.7Z M110.4,71.3L112.9,67.8L115.4,70.8L114.9,73.6L116.7,76.9L115.2,77.6L113.0,74.2Z M142.4,95.9L144.9,94.3L147.6,93.7L147.1,95.2L144.3,96.4Z M224.0,127.6L225.2,126.8L226.2,127.8L227.3,127.0L228.2,128.2L226.6,129.4L224.8,129.2Z M223.5,167.5L229.0,166.8L229.5,170.8L224.0,171.2Z" fill="#d9dd87" stroke="#d9dd87" stroke-width="0.5" stroke-linejoin="round"/><path d="M-3.0,-3.0L126.5,-3.0L124.7,0.0L122.2,1.9L118.5,2.7L114.7,6.2L109.8,8.7L105.4,11.8L101.0,14.9L96.7,18.0L93.6,20.5L91.1,24.3L89.5,28.0L89.9,32.3L91.7,37.3L94.5,42.4L96.7,47.5L98.6,52.4L99.8,57.4L99.6,62.4L97.9,66.1L94.8,67.6L91.7,66.1L88.6,61.8L85.5,56.8L83.0,52.3L81.5,50.0L80.6,48.5L82.3,46.0L82.2,43.0L79.9,39.8L76.2,36.7L71.8,33.8L68.7,35.4L64.4,36.7L60.9,33.0L56.0,31.1L51.0,31.1L47.3,32.6L45.4,29.9L42.3,31.3L37.3,32.6L32.3,31.7L29.9,33.6L34.8,36.1L37.3,39.8L33.6,37.9L29.9,39.6L24.9,39.8L21.1,37.3L16.2,36.7L10.0,36.1L5.0,34.6L2.1,37.3L-3.0,37.3Z M-3.0,115.5L2.1,115.5L6.2,113.9L11.2,113.0L16.2,111.4L19.9,113.4L22.4,110.5L26.1,106.8L28.4,102.4L28.9,97.4L30.5,94.7L34.8,93.5L41.0,92.2L47.3,91.5L51.6,91.8L53.7,94.0L53.2,97.4L51.0,100.5L49.1,104.3L47.9,108.6L47.0,113.0L46.0,116.1L45.4,119.8L43.5,123.6L41.0,127.3L39.8,130.4L43.5,131.3L49.8,131.0L56.0,130.8L62.2,130.4L67.2,131.6L72.1,133.5L76.5,135.2L78.4,138.0L76.5,142.4L75.9,147.4L75.2,152.3L74.4,157.3L74.3,160.0L74.9,164.3L77.4,168.7L79.9,172.4L83.0,174.9L86.1,177.4L89.8,179.3L93.5,178.6L97.3,176.8L100.4,174.9L103.5,173.7L107.2,174.7L110.9,175.5L114.7,178.0L117.8,181.1L120.3,184.2L121.2,181.1L124.3,178.0L128.6,175.5L129.9,171.2L131.1,166.8L134.9,163.5L138.0,165.0L139.8,162.5L144.8,162.2L148.5,160.0L152.3,158.1L154.1,155.6L157.2,155.0L159.7,156.0L158.5,158.7L155.4,160.6L154.1,162.5L156.6,165.0L159.7,164.0L164.7,162.5L167.6,161.2L166.6,158.7L166.4,156.6L168.6,156.0L170.2,158.2L169.2,161.0L172.8,160.2L176.5,161.2L179.0,163.7L180.2,167.2L184.9,167.4L189.9,166.8L194.9,167.4L198.6,169.9L202.3,170.9L206.1,168.1L211.0,167.0L216.0,166.4L220.8,166.6L220.6,167.7L217.2,168.1L218.9,170.1L220.8,172.0L224.6,172.4L228.4,173.9L230.6,175.8L228.4,177.7L225.2,180.9L230.3,180.9L235.3,180.9L238.4,182.2L241.5,184.9L245.0,188.0L250.0,192.0L250.0,215.0L118.1,215.0L118.1,208.5L118.1,206.0L117.4,202.3L118.1,198.5L116.8,194.8L115.6,191.1L113.7,187.3L111.6,184.9L109.7,181.1L107.2,178.6L103.5,178.6L99.8,180.5L96.6,183.0L97.9,185.5L99.8,188.0L97.3,189.2L94.2,189.2L93.5,185.5L91.0,186.1L88.6,188.0L87.3,184.2L83.6,181.7L80.5,180.5L79.9,183.0L78.0,182.4L74.9,180.5L71.8,176.8L68.7,173.7L66.8,171.2L65.5,173.7L62.4,171.8L60.0,168.7L60.6,163.7L57.8,160.4L54.7,157.9L52.2,154.8L49.1,151.7L46.6,149.9L42.3,149.2L37.3,148.4L32.3,146.7L27.4,144.9L22.4,143.6L17.4,141.1L13.7,137.4L10.0,133.7L6.2,130.6L2.1,128.5L-3.0,128.5Z M66.2,90.2L69.3,87.4L72.4,84.3L77.4,82.2L83.6,81.0L89.9,81.0L96.1,81.8L99.8,83.1L103.5,85.6L107.9,86.8L112.2,88.9L117.2,91.2L122.2,93.7L127.2,95.5L130.9,98.0L135.9,99.3L139.6,101.3L137.1,102.8L132.1,103.4L127.2,103.0L122.2,102.6L117.8,103.6L115.3,103.9L117.2,101.7L119.7,99.3L116.0,97.4L112.2,96.3L109.8,94.0L106.0,92.2L101.0,90.9L97.3,89.1L92.3,87.8L88.0,87.8L85.5,86.8L86.5,85.6L83.6,84.8L79.9,85.3L76.2,86.8L72.4,88.6L69.3,90.2Z M78.6,91.0L80.2,89.8L81.8,90.6L81.6,92.4L79.8,92.8Z M110.4,114.6L113.5,113.3L118.5,112.9L123.4,114.6L125.7,116.7L122.8,117.9L118.5,117.9L114.7,116.7Z M143.7,104.6L147.4,103.4L151.7,103.9L156.1,103.9L159.8,103.4L164.8,104.2L168.5,106.1L172.9,107.6L171.6,109.2L176.0,110.1L179.5,111.5L178.5,114.6L174.8,113.8L171.0,112.9L167.3,114.2L163.6,113.6L161.1,113.8L159.2,117.3L157.6,118.5L155.8,116.7L154.9,114.6L151.1,115.0L146.8,114.8L143.7,114.2L141.8,115.8L139.3,114.2L137.2,112.6L141.2,112.1L144.9,112.9L149.3,113.3L151.7,112.3L149.3,110.4L146.5,110.3L149.3,108.0L148.0,105.8Z M186.6,113.6L189.7,112.9L194.7,112.9L197.8,114.2L196.9,116.3L192.2,117.0L187.2,116.7Z M110.4,71.3L112.9,67.8L115.4,70.8L114.9,73.6L116.7,76.9L115.2,77.6L113.0,74.2Z M142.4,95.9L144.9,94.3L147.6,93.7L147.1,95.2L144.3,96.4Z M224.0,127.6L225.2,126.8L226.2,127.8L227.3,127.0L228.2,128.2L226.6,129.4L224.8,129.2Z M223.5,167.5L229.0,166.8L229.5,170.8L224.0,171.2Z" fill="none" stroke="#34341f" stroke-width="0.7" stroke-opacity="0.95" stroke-dasharray="2.1 1" stroke-linejoin="round"/><path d="M156.6,165.0L157.4,166.2L159.1,168.7L160.7,172.4L159.7,176.1L157.2,177.6L154.8,175.5L153.8,172.4L155.4,169.3L156.4,166.5Z" fill="#fff" stroke="#34341f" stroke-width="0.5" stroke-opacity="0.7"/><path d="M108.3,57.4L112.2,55.9L116.0,55.5L119.7,58.0L120.3,60.5L118.5,63.0 M122.2,64.3L125.3,66.7L126.5,70.5 M129.0,71.1L131.5,74.8 M132.8,78.6L134.6,82.9 M139.6,86.8L141.6,84.4 M228.6,138.4L229.6,140.2 M205.6,164.2L208.6,164.0" fill="none" stroke="#3a3a26" stroke-width="0.8" stroke-opacity="0.95" stroke-dasharray="1.8 1"/><path d="M37.6,117.6L25.2,117.6L25.2,120.9L21.9,121.5L24.3,122.8L26.8,125.6L29.3,128.5L24.9,129.6L19.6,130.2L17.4,133.7L16.9,136.5L17.2,140.8 M37.3,117.6L37.3,126.2L37.8,131.2 M40.3,130.8L37.9,136.2L36.7,139.9L33.6,143.0L31.7,146.4 M36.7,139.9L39.8,143.0L43.5,144.3L46.6,146.1L47.9,149.6 M49.1,151.5L53.5,148.6L54.7,144.9L58.5,143.0L62.2,142.4L64.7,139.9L69.7,138.7L74.6,138.0L77.7,136.8 M60.6,163.7L66.2,163.7L71.1,165.6L74.9,166.8 M79.9,173.2L80.6,177.0L79.9,183.0 M114.7,178.6L117.6,181.6L119.7,184.9L115.9,187.3 M154.1,162.5L151.0,164.3L148.5,167.4L147.3,171.2L144.8,175.5L147.9,177.4L150.4,181.1L151.6,184.9L151.6,188.0L154.1,191.1L158.5,191.3L163.5,191.1L167.2,192.3L169.7,195.4L172.8,197.5L178.4,197.0L183.4,196.7L184.6,198.5L183.4,202.9L182.7,210.0 M237.8,181.7L234.7,184.9L230.9,188.0L232.2,191.1L228.5,193.6L226.6,197.9L228.5,201.6L230.9,204.8L234.7,202.9L235.3,207.2L235.9,210.0 M230.9,204.8L226.0,210.0 M156.1,103.9L155.5,107.4L156.1,111.1L154.9,114.6" fill="none" stroke="#34341f" stroke-width="0.6" stroke-opacity="0.8" stroke-dasharray="2.5 0.9" stroke-linejoin="round"/></g>
<g><circle cx="503.2" cy="297.6" r="3.6" fill="#08519c"/><circle cx="423.5" cy="352" r="3.6" fill="#08519c"/><circle cx="428.2" cy="349.7" r="3.6" fill="#2171b5"/><circle cx="475.2" cy="337.2" r="3.6" fill="#08519c"/><circle cx="505.3" cy="346.1" r="3.6" fill="#2171b5"/><circle cx="602.5" cy="351.3" r="3.6" fill="#c6dbef"/><circle cx="609.3" cy="352.4" r="3.6" fill="#08519c"/><circle cx="612.5" cy="362.8" r="3.6" fill="#08519c"/><circle cx="611.4" cy="365" r="3.6" fill="#08519c"/><circle cx="614.7" cy="375.5" r="3.6" fill="#08519c"/><circle cx="613.3" cy="379.7" r="3.6" fill="#2171b5"/><circle cx="610.9" cy="384.1" r="3.6" fill="#2171b5"/><circle cx="608.8" cy="387.4" r="3.6" fill="#9ecae1"/><circle cx="624.5" cy="379.7" r="3.6" fill="#08519c"/><circle cx="616.1" cy="392.5" r="3.6" fill="#08519c"/><circle cx="611.9" cy="396.9" r="3.6" fill="#4292c6"/><circle cx="632.4" cy="425.4" r="3.6" fill="#2171b5"/></g>
</svg>
<circle cx="264.35" cy="17.5" r="7.25" fill="#69040f" stroke="#777" stroke-width="0.6"/>
<text x="283.1" y="22.95" class="lg" textLength="70.3" lengthAdjust="spacingAndGlyphs">50.0 - 55.0</text>
<circle cx="264.35" cy="36.8" r="7.25" fill="#a8171d" stroke="#777" stroke-width="0.6"/>
<text x="283.1" y="42.25" class="lg" textLength="70.3" lengthAdjust="spacingAndGlyphs">45.0 - 50.0</text>
<circle cx="264.35" cy="56.1" r="7.25" fill="#cc1d22" stroke="#777" stroke-width="0.6"/>
<text x="283.1" y="61.55" class="lg" textLength="70.3" lengthAdjust="spacingAndGlyphs">40.0 - 45.0</text>
<circle cx="264.35" cy="75.4" r="7.25" fill="#f0402f" stroke="#777" stroke-width="0.6"/>
<text x="283.1" y="80.85" class="lg" textLength="70.3" lengthAdjust="spacingAndGlyphs">35.0 - 40.0</text>
<circle cx="264.35" cy="94.7" r="7.25" fill="#fa6a4b" stroke="#777" stroke-width="0.6"/>
<text x="283.1" y="100.15" class="lg" textLength="70.3" lengthAdjust="spacingAndGlyphs">30.0 - 35.0</text>
<circle cx="264.35" cy="114.0" r="7.25" fill="#fc9272" stroke="#777" stroke-width="0.6"/>
<text x="283.1" y="119.45" class="lg" textLength="70.3" lengthAdjust="spacingAndGlyphs">25.0 - 30.0</text>
<circle cx="264.35" cy="133.3" r="7.25" fill="#fcbba1" stroke="#777" stroke-width="0.6"/>
<text x="283.1" y="138.75" class="lg" textLength="70.3" lengthAdjust="spacingAndGlyphs">20.0 - 25.0</text>
<circle cx="264.35" cy="152.6" r="7.25" fill="#fee0d2" stroke="#777" stroke-width="0.6"/>
<text x="283.1" y="158.05" class="lg" textLength="70.3" lengthAdjust="spacingAndGlyphs">15.0 - 20.0</text>
<circle cx="264.35" cy="171.9" r="7.25" fill="#fff5f0" stroke="#777" stroke-width="0.6"/>
<text x="283.1" y="177.35" class="lg" textLength="70.3" lengthAdjust="spacingAndGlyphs">10.0 - 15.0</text>
<circle cx="264.95" cy="240.2" r="7.25" fill="#1d2f6f" stroke="#777" stroke-width="0.6"/>
<text x="283.1" y="245.75" class="lg" textLength="70.3" lengthAdjust="spacingAndGlyphs">50.0 - 55.0</text>
<circle cx="264.95" cy="259.4" r="7.25" fill="#08519c" stroke="#777" stroke-width="0.6"/>
<text x="283.1" y="264.95" class="lg" textLength="70.3" lengthAdjust="spacingAndGlyphs">45.0 - 50.0</text>
<circle cx="264.95" cy="278.6" r="7.25" fill="#2171b5" stroke="#777" stroke-width="0.6"/>
<text x="283.1" y="284.15" class="lg" textLength="70.3" lengthAdjust="spacingAndGlyphs">40.0 - 45.0</text>
<circle cx="264.95" cy="297.8" r="7.25" fill="#4292c6" stroke="#777" stroke-width="0.6"/>
<text x="283.1" y="303.35" class="lg" textLength="70.3" lengthAdjust="spacingAndGlyphs">35.0 - 40.0</text>
<circle cx="264.95" cy="316.9" r="7.25" fill="#6baed6" stroke="#777" stroke-width="0.6"/>
<text x="283.1" y="322.55" class="lg" textLength="70.3" lengthAdjust="spacingAndGlyphs">30.0 - 35.0</text>
<circle cx="264.95" cy="336.1" r="7.25" fill="#9ecae1" stroke="#777" stroke-width="0.6"/>
<text x="283.1" y="341.75" class="lg" textLength="70.3" lengthAdjust="spacingAndGlyphs">25.0 - 30.0</text>
<circle cx="264.95" cy="355.4" r="7.25" fill="#c6dbef" stroke="#777" stroke-width="0.6"/>
<text x="283.1" y="360.95" class="lg" textLength="70.3" lengthAdjust="spacingAndGlyphs">20.0 - 25.0</text>
<circle cx="264.95" cy="374.6" r="7.25" fill="#deebf7" stroke="#777" stroke-width="0.6"/>
<text x="283.1" y="380.15" class="lg" textLength="70.3" lengthAdjust="spacingAndGlyphs">15.0 - 20.0</text>
<circle cx="264.95" cy="393.8" r="7.25" fill="#f7fbff" stroke="#777" stroke-width="0.6"/>
<text x="283.1" y="399.35" class="lg" textLength="70.3" lengthAdjust="spacingAndGlyphs">10.0 - 15.0</text>
<text y="18.0" class="tt"><tspan x="163.50" textLength="35.60" lengthAdjust="spacingAndGlyphs">Warm</tspan> <tspan x="202.60" textLength="30.30" lengthAdjust="spacingAndGlyphs">Days</tspan></text>
<text y="18.1" class="tt"><tspan x="541.50" textLength="36.00" lengthAdjust="spacingAndGlyphs">Warm</tspan> <tspan x="582.20" textLength="39.30" lengthAdjust="spacingAndGlyphs">Nights</tspan></text>
<text y="247.8" class="tt"><tspan x="168.00" textLength="26.60" lengthAdjust="spacingAndGlyphs">Cool</tspan> <tspan x="199.10" textLength="28.80" lengthAdjust="spacingAndGlyphs">Days</tspan></text>
<text y="248.0" class="tt"><tspan x="567.30" textLength="26.90" lengthAdjust="spacingAndGlyphs">Cool</tspan> <tspan x="598.60" textLength="39.40" lengthAdjust="spacingAndGlyphs">Nights</tspan></text>
</svg>
</body></html>
